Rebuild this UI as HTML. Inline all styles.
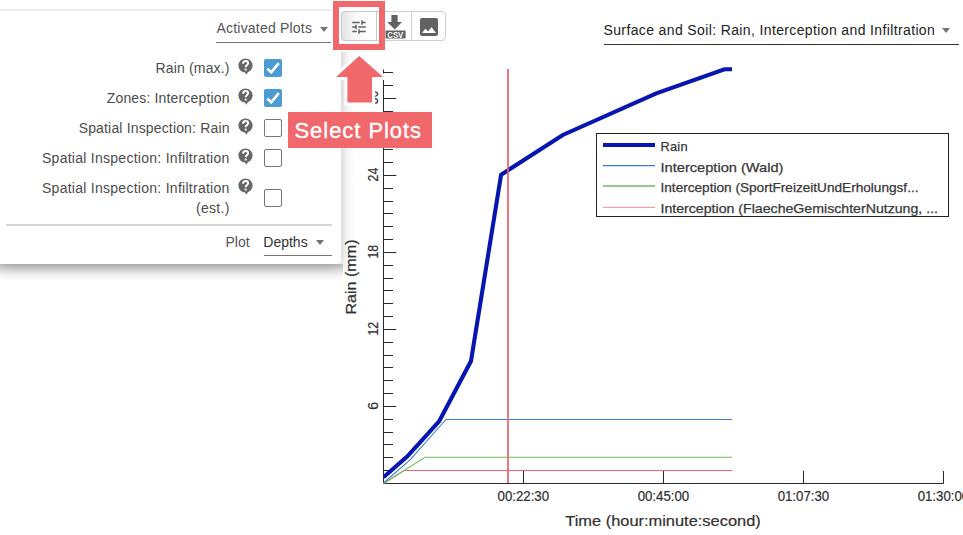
<!DOCTYPE html>
<html><head><meta charset="utf-8">
<style>
html,body{margin:0;padding:0;background:#fff;}
body{width:963px;height:535px;overflow:hidden;position:relative;font-family:"Liberation Sans",sans-serif;}
.abs{position:absolute;}
#chart{position:absolute;left:0;top:0;}
#panel{position:absolute;left:0;top:10px;width:341px;height:254px;background:#fff;border-radius:0 0 4px 0;box-shadow:0 2px 14px rgba(0,0,0,.28);}
#pshadow{position:absolute;left:0;top:264px;width:343px;height:17px;background:linear-gradient(180deg,rgba(0,0,0,.2),rgba(0,0,0,.12) 30%,rgba(0,0,0,.04) 65%,rgba(0,0,0,0));}
#topcover{position:absolute;left:0;top:0;width:333px;height:10px;background:#fff;}
#topline{position:absolute;left:0;top:9px;width:331px;height:2px;background:#ececec;}
.lbl{position:absolute;right:733.4px;font-size:14px;line-height:16px;color:#4c4c4c;letter-spacing:0.16px;white-space:nowrap;text-align:right;}
.help{position:absolute;left:238px;width:15px;height:17px;overflow:visible}
.cb{position:absolute;left:264px;width:18px;height:18px;box-sizing:border-box;border-radius:2px;}
.cb.on{background:#4b9cd3;}
.cb.off{border:1.3px solid #777;background:#fff;}
.sel{position:absolute;font-size:14px;line-height:16px;white-space:nowrap;}
.tri{position:absolute;width:0;height:0;border-left:4.5px solid transparent;border-right:4.5px solid transparent;border-top:5px solid #757575;}
</style></head><body>

<svg id="chart" width="963" height="535" viewBox="0 0 963 535">
  <g font-family="Liberation Sans" fill="#333" font-size="13.5">
  </g>
  <!-- axes -->
  <g stroke="#2a2a2a" stroke-width="1" fill="none">
    <path d="M383.5 69.5 V483.5 H943.5 V471"/>
    <path d="M383 470.5H393.0M383 457.5H393.0M383 444.5H393.0M383 432.5H393.0M383 419.5H393.0M383 406.5H396.3M383 393.5H393.0M383 380.5H393.0M383 367.5H393.0M383 355.5H393.0M383 342.5H393.0M383 329.5H396.3M383 316.5H393.0M383 303.5H393.0M383 290.5H393.0M383 278.5H393.0M383 265.5H393.0M383 252.5H396.3M383 239.5H393.0M383 226.5H393.0M383 213.5H393.0M383 201.5H393.0M383 188.5H393.0M383 175.5H396.3M383 162.5H393.0M383 149.5H393.0M383 136.5H393.0M383 124.5H393.0M383 111.5H393.0M383 98.5H396.3M383 85.5H393.0M383 72.5H393.0"/>
    <path d="M523.5 483 V470.5 M663.5 483 V470.5 M803.5 483 V470.5"/>
  </g>
  <defs><clipPath id="pc"><rect x="383" y="60" width="560" height="424"/></clipPath></defs>
  <g clip-path="url(#pc)">
  <polyline fill="none" stroke="#ee6a70" stroke-width="1.1" points="383.5,483.5 404,470.5 732,470.5"/>
  <polyline fill="none" stroke="#6cbf5c" stroke-width="1.1" points="383.5,483.5 425,457.3 732,457.3"/>
  <polyline fill="none" stroke="#3a80d6" stroke-width="1.1" points="383.5,483 410,459.8 446,419.5 732,419.5"/>
  <polyline fill="none" stroke="#0716b0" stroke-width="4.1" stroke-linejoin="miter" points="383.5,477.2 407.4,456.3 439.3,421 471,361 501.1,174.7 562.8,135 656.3,93.4 724.5,69.2 732,69.2"/>
  <line x1="508" y1="69" x2="508" y2="483" stroke="#ea5f6c" stroke-width="1.7"/>
  </g>
  <!-- tick labels -->
  <g font-family="Liberation Sans" font-size="14.2" fill="#303030" stroke="#303030" stroke-width="0.2" text-anchor="middle">
    <text x="523.3" y="501.2" textLength="51.5" lengthAdjust="spacingAndGlyphs">00:22:30</text>
    <text x="663.4" y="501.2" textLength="51.5" lengthAdjust="spacingAndGlyphs">00:45:00</text>
    <text x="803.4" y="501.2" textLength="51.5" lengthAdjust="spacingAndGlyphs">01:07:30</text>
    <text x="943.4" y="501.2" textLength="51.5" lengthAdjust="spacingAndGlyphs">01:30:00</text>
    <text transform="translate(378 405.9) rotate(-90)">6</text>
    <text transform="translate(378 328.8) rotate(-90)" textLength="13.6" lengthAdjust="spacingAndGlyphs">12</text>
    <text transform="translate(378 251.7) rotate(-90)" textLength="13.6" lengthAdjust="spacingAndGlyphs">18</text>
    <text transform="translate(378 174.6) rotate(-90)" textLength="13.6" lengthAdjust="spacingAndGlyphs">24</text>
    <text transform="translate(378 97.5) rotate(-90)" textLength="13.6" lengthAdjust="spacingAndGlyphs">30</text>
    <text x="663" y="525.6" font-size="15" textLength="195.5" lengthAdjust="spacingAndGlyphs">Time (hour:minute:second)</text>
    <text transform="translate(356 277) rotate(-90)" font-size="14.3" textLength="75" lengthAdjust="spacingAndGlyphs">Rain (mm)</text>
  </g>
  <!-- legend -->
  <rect x="596.5" y="133.5" width="352" height="83" fill="#fff" stroke="#222" stroke-width="1"/>
  <g stroke-width="1.3">
    <line x1="603" y1="145" x2="655" y2="145" stroke="#0716b0" stroke-width="4"/>
    <line x1="603" y1="165.7" x2="655" y2="165.7" stroke="#3a80d6"/>
    <line x1="603" y1="186" x2="655" y2="186" stroke="#6cbf5c"/>
    <line x1="603" y1="207.3" x2="655" y2="207.3" stroke="#f2a0a8"/>
  </g>
  <g font-family="Liberation Sans" font-size="12.8" fill="#383838" stroke="#383838" stroke-width="0.25">
    <text x="660.5" y="150.8" textLength="27">Rain</text>
    <text x="660.5" y="171.5" textLength="123" lengthAdjust="spacingAndGlyphs">Interception (Wald)</text>
    <text x="660.5" y="192" textLength="258" lengthAdjust="spacingAndGlyphs">Interception (SportFreizeitUndErholungsf...</text>
    <text x="660.5" y="212.8" textLength="277.5" lengthAdjust="spacingAndGlyphs">Interception (FlaecheGemischterNutzung, ...</text>
  </g>
</svg>

<!-- right dropdown -->
<div class="sel" style="left:603.5px;top:21.5px;color:#222;letter-spacing:0.37px;">Surface and Soil: Rain, Interception and Infiltration</div>
<div class="tri" style="left:942px;top:28px;"></div>
<div class="abs" style="left:604px;top:43.5px;width:355px;height:1.3px;background:#333;"></div>

<!-- panel -->
<div id="pshadow"></div>
<div id="panel"></div>
<div id="topcover"></div>
<div id="topline"></div>

<div class="sel" style="left:216.5px;top:19.5px;color:#545454;letter-spacing:0.2px;">Activated Plots</div>
<div class="tri" style="left:319.5px;top:27px;"></div>
<div class="abs" style="left:216px;top:42px;width:115px;height:1px;background:#777;"></div>

<div class="lbl" style="top:60px;">Rain (max.)</div>
<div class="lbl" style="top:90px;">Zones: Interception</div>
<div class="lbl" style="top:120px;">Spatial Inspection: Rain</div>
<div class="lbl" style="top:150px;letter-spacing:0.27px">Spatial Inspection: Infiltration</div>
<div class="lbl" style="top:180px;letter-spacing:0.27px">Spatial Inspection: Infiltration<br><span style="display:inline-block;margin-top:4px">(est.)</span></div>

<svg class="help" style="top:58px" viewBox="0 0 15 17"><circle cx="7.5" cy="7.5" r="7.1" fill="#666"/><path d="M6.3 13.2 L8.4 16.8 L10.6 12.6Z" fill="#666"/><path d="M5.1 5.7 C5.1 4 6.1 3 7.6 3 C9.1 3 10.1 4 10.1 5.3 C10.1 7 7.7 7.1 7.7 9.3" stroke="#fff" stroke-width="2" fill="none"/><circle cx="7.7" cy="11.6" r="1.15" fill="#fff"/></svg>
<svg class="help" style="top:88px" viewBox="0 0 15 17"><circle cx="7.5" cy="7.5" r="7.1" fill="#666"/><path d="M6.3 13.2 L8.4 16.8 L10.6 12.6Z" fill="#666"/><path d="M5.1 5.7 C5.1 4 6.1 3 7.6 3 C9.1 3 10.1 4 10.1 5.3 C10.1 7 7.7 7.1 7.7 9.3" stroke="#fff" stroke-width="2" fill="none"/><circle cx="7.7" cy="11.6" r="1.15" fill="#fff"/></svg>
<svg class="help" style="top:118px" viewBox="0 0 15 17"><circle cx="7.5" cy="7.5" r="7.1" fill="#666"/><path d="M6.3 13.2 L8.4 16.8 L10.6 12.6Z" fill="#666"/><path d="M5.1 5.7 C5.1 4 6.1 3 7.6 3 C9.1 3 10.1 4 10.1 5.3 C10.1 7 7.7 7.1 7.7 9.3" stroke="#fff" stroke-width="2" fill="none"/><circle cx="7.7" cy="11.6" r="1.15" fill="#fff"/></svg>
<svg class="help" style="top:148px" viewBox="0 0 15 17"><circle cx="7.5" cy="7.5" r="7.1" fill="#666"/><path d="M6.3 13.2 L8.4 16.8 L10.6 12.6Z" fill="#666"/><path d="M5.1 5.7 C5.1 4 6.1 3 7.6 3 C9.1 3 10.1 4 10.1 5.3 C10.1 7 7.7 7.1 7.7 9.3" stroke="#fff" stroke-width="2" fill="none"/><circle cx="7.7" cy="11.6" r="1.15" fill="#fff"/></svg>
<svg class="help" style="top:178px" viewBox="0 0 15 17"><circle cx="7.5" cy="7.5" r="7.1" fill="#666"/><path d="M6.3 13.2 L8.4 16.8 L10.6 12.6Z" fill="#666"/><path d="M5.1 5.7 C5.1 4 6.1 3 7.6 3 C9.1 3 10.1 4 10.1 5.3 C10.1 7 7.7 7.1 7.7 9.3" stroke="#fff" stroke-width="2" fill="none"/><circle cx="7.7" cy="11.6" r="1.15" fill="#fff"/></svg>

<div class="cb on" style="top:59px"><svg width="18" height="18" viewBox="0 0 18 18"><path d="M3.3 9.6 L7.2 13.3 L14.8 4.2" stroke="#fff" stroke-width="2.6" fill="none"/></svg></div>
<div class="cb on" style="top:89px"><svg width="18" height="18" viewBox="0 0 18 18"><path d="M3.3 9.6 L7.2 13.3 L14.8 4.2" stroke="#fff" stroke-width="2.6" fill="none"/></svg></div>
<div class="cb off" style="top:119px"></div>
<div class="cb off" style="top:149px"></div>
<div class="cb off" style="top:189px"></div>

<div class="abs" style="left:6px;top:224px;width:326px;height:2px;background:#d6d6d6;"></div>
<div class="sel" style="left:225.5px;top:234px;color:#545454;">Plot</div>
<div class="sel" style="left:263.3px;top:234px;color:#333;">Depths</div>
<div class="tri" style="left:316px;top:240px;"></div>
<div class="abs" style="left:264px;top:254.5px;width:68px;height:1px;background:#777;"></div>

<!-- button group -->
<div class="abs" style="left:331px;top:0;width:70px;height:52px;background:#fff;"></div>
<div class="abs" style="left:341px;top:11px;width:105px;height:30px;box-sizing:border-box;border:1px solid #cfcfcf;border-radius:4px;background:#fff;"></div>
<div class="abs" style="left:341px;top:11px;width:36px;height:30px;box-sizing:border-box;border:1px solid #c8c8c8;border-radius:4px 0 0 4px;background:linear-gradient(90deg,#e4e4e4,#f7f7f7 35%,#fff 70%);"></div>
<div class="abs" style="left:411px;top:12px;width:1px;height:29px;background:#d0d0d0;"></div>
<svg class="abs" style="left:349.75px;top:17.8px" width="18" height="18" viewBox="0 0 24 24"><path fill="#616161" d="M3 17v2h6v-2H3zM3 5v2h10V5H3zm10 16v-2h8v-2h-8v-2h-2v6h2zM7 9v2H3v2h4v2h2V9H7zm14 4v-2H11v2h10zm-6-4h2V7h4V5h-4V3h-2v6z"/></svg>
<svg class="abs" style="left:417px;top:15px" width="24" height="24" viewBox="0 0 24 24"><path fill="#616161" d="M21 19V5c0-1.1-.9-2-2-2H5c-1.1 0-2 .9-2 2v14c0 1.1.9 2 2 2h14c1.1 0 2-.9 2-2zM8.5 13.5l2.5 3.01L14.5 12l4.5 6H5l3.5-4.5z"/></svg>
<svg class="abs" style="left:383px;top:13px" width="26" height="28" viewBox="0 0 26 28">
  <path fill="#616161" d="M8.4 2.1 H14.6 V9 H19 L11.7 16.6 L4.2 9 H8.4Z"/>
  <rect x="2.5" y="17.6" width="20.1" height="8" rx="0.8" fill="#616161"/>
  <text x="12.3" y="25" font-family="Liberation Sans" font-weight="bold" font-size="9.2" fill="#fff" text-anchor="middle" textLength="16" lengthAdjust="spacingAndGlyphs">CSV</text>
</svg>

<!-- callout -->
<div class="abs" style="left:333px;top:1px;width:52px;height:48.7px;box-sizing:border-box;border:6px solid #f0686c;"></div>
<svg class="abs" style="left:330px;top:50px" width="60" height="60" viewBox="0 0 60 60">
  <path d="M29.2 5.9 L53 27 H42 V52.6 H17.4 V27 H6 Z" fill="#f0686c" stroke="#fff" stroke-width="6" stroke-linejoin="miter" paint-order="stroke"/>
</svg>
<div class="abs" style="left:288px;top:112px;width:144px;height:36px;background:#f0686c;"></div>
<div class="abs" style="left:294.5px;top:117.5px;font-size:22px;line-height:26px;color:#fff;letter-spacing:0.95px;-webkit-text-stroke:0.35px #fff;white-space:nowrap;">Select Plots</div>

</body></html>
